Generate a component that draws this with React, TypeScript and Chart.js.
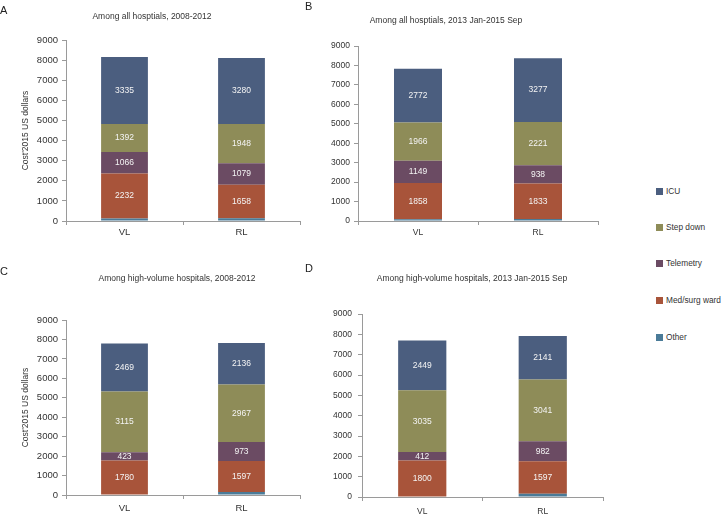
import React, { useEffect, useRef } from 'react';
import { Chart, registerables } from 'chart.js';
Chart.register(...registerables);

const FONT = '"Liberation Sans", Arial, Helvetica, sans-serif';

const categories = ['VL', 'RL'];
const seriesNames = ['ICU', 'Step down', 'Telemetry', 'Med/surg ward', 'Other'];
const seriesColors = ['#4b5e7f', '#8e8c58', '#6b4b63', '#a8543a', '#4a7b98'];

const yTicks = [0, 9000, 1000]; // min, max, step
const yTitle = "Cost'2015 US dollars";

// Panel A: all hospitals, 2008-2012
const icuA = [3335, 3280];
const stepA = [1392, 1948];
const telA = [1066, 1079];
const medA = [2232, 1658];
const otherA = [130, 140];

// Panel B: all hospitals, 2013 Jan-2015 Sep
const icuB = [2772, 3277];
const stepB = [1966, 2221];
const telB = [1149, 938];
const medB = [1858, 1833];
const otherB = [90, 100];

// Panel C: high-volume hospitals, 2008-2012
const icuC = [2469, 2136];
const stepC = [3115, 2967];
const telC = [423, 973];
const medC = [1780, 1597];
const otherC = [0, 150];

// Panel D: high-volume hospitals, 2013 Jan-2015 Sep
const icuD = [2449, 2141];
const stepD = [3035, 3041];
const telD = [412, 982];
const medD = [1800, 1597];
const otherD = [0, 160];

const titles = [
  'Among all hosptials, 2008-2012',
  'Among all hosptials, 2013 Jan-2015 Sep',
  'Among high-volume hospitals, 2008-2012',
  'Among high-volume hospitals, 2013 Jan-2015 Sep',
];
const letters = ['A', 'B', 'C', 'D'];

const valueLabels = {
  id: 'valueLabels',
  afterDatasetsDraw(chart: any) {
    const ctx = chart.ctx;
    ctx.save();
    ctx.fillStyle = '#f4f4f4';
    ctx.font = `8.5px ${FONT}`;
    ctx.textAlign = 'center';
    ctx.textBaseline = 'middle';
    chart.data.datasets.forEach((ds: any, i: number) => {
      if (ds.label === 'Other') return;
      const meta = chart.getDatasetMeta(i);
      meta.data.forEach((bar: any, j: number) => {
        const v = ds.data[j];
        if (!v) return;
        const p = bar.getProps(['x', 'y', 'base'], true);
        ctx.fillText(String(v), p.x, (p.y + p.base) / 2);
      });
    });
    ctx.restore();
  },
};

type PanelProps = {
  left: number; top: number; width: number; height: number;
  padTop: number; padRight: number; padBottom: number;
  yWidth: number; xHeight: number; showYTitle: boolean;
  tickSize: number; yPad: number; xPad: number;
  icu: number[]; step: number[]; tel: number[]; med: number[]; other: number[];
};

function Panel(props: PanelProps) {
  const ref = useRef<HTMLCanvasElement>(null);
  useEffect(() => {
    if (!ref.current) return;
    const stackVals = [props.other, props.med, props.tel, props.step, props.icu];
    const stackIdx = [4, 3, 2, 1, 0];
    const chart = new Chart(ref.current, {
      type: 'bar',
      data: {
        labels: categories,
        datasets: stackVals.map((vals, k) => ({
          label: seriesNames[stackIdx[k]],
          data: vals,
          backgroundColor: seriesColors[stackIdx[k]],
          borderWidth: 0,
          barPercentage: 0.4,
          categoryPercentage: 1,
        })),
      },
      options: {
        responsive: false,
        animation: false,
        devicePixelRatio: 1,
        layout: { padding: { left: 0, right: props.padRight, top: props.padTop, bottom: props.padBottom } },
        plugins: { legend: { display: false }, tooltip: { enabled: false }, title: { display: false } },
        scales: {
          x: {
            stacked: true,
            offset: true,
            grid: { display: true, drawOnChartArea: false, drawTicks: true, tickLength: 4, color: '#9a9a9a', offset: true },
            border: { display: true, color: '#9a9a9a' },
            ticks: { color: '#333', font: { family: FONT, size: props.tickSize }, padding: props.xPad },
            afterFit: (s: any) => { s.height = props.xHeight; },
          },
          y: {
            stacked: true,
            min: yTicks[0],
            max: yTicks[1],
            ticks: {
              stepSize: yTicks[2], color: '#333', font: { family: FONT, size: props.tickSize }, padding: props.yPad,
              callback: (v: any) => String(v),
            },
            grid: { display: true, drawOnChartArea: false, drawTicks: true, tickLength: 4, color: '#9a9a9a' },
            border: { display: true, color: '#9a9a9a' },
            title: {
              display: props.showYTitle,
              text: yTitle,
              color: '#333',
              font: { family: FONT, size: 8.5 },
              padding: { top: 21, bottom: 0 },
            },
            afterFit: (s: any) => { s.width = props.yWidth; },
          },
        },
      },
      plugins: [valueLabels],
    } as any);
    return () => chart.destroy();
  }, []);
  return (
    <canvas
      ref={ref}
      width={props.width}
      height={props.height}
      style={{ position: 'absolute', left: props.left, top: props.top, width: props.width, height: props.height }}
    />
  );
}

const textStyle = (x: number, y: number, size: number): React.CSSProperties => ({
  position: 'absolute', left: x, top: y, transform: 'translate(-50%, -50%)',
  fontSize: size, fontFamily: FONT, color: '#333', whiteSpace: 'nowrap', lineHeight: 1,
});

export default function App() {
  const titlePos = [[152, 16], [446, 20], [177, 278], [472, 278]];
  const letterPos = [[0, 4], [305, 0], [0, 265], [305, 262]];
  const legendY = [191, 227, 263, 300, 337];
  return (
    <div style={{ position: 'absolute', left: 0, top: 0, width: 724, height: 516, background: '#fff', overflow: 'hidden' }}>
      <Panel left={0} top={0} width={320} height={255} padTop={40} padRight={20} padBottom={6}
        yWidth={66} xHeight={28} showYTitle={true} tickSize={9.5} yPad={4} xPad={2}
        icu={icuA} step={stepA} tel={telA} med={medA} other={otherA} />
      <Panel left={330} top={0} width={290} height={255} padTop={46} padRight={22} padBottom={6}
        yWidth={28} xHeight={28} showYTitle={false} tickSize={8.5} yPad={4} xPad={3}
        icu={icuB} step={stepB} tel={telB} med={medB} other={otherB} />
      <Panel left={0} top={255} width={320} height={261} padTop={65} padRight={20} padBottom={0}
        yWidth={66} xHeight={21} showYTitle={true} tickSize={9.5} yPad={4} xPad={4}
        icu={icuC} step={stepC} tel={telC} med={medC} other={otherC} />
      <Panel left={330} top={255} width={290} height={261} padTop={59} padRight={17} padBottom={0}
        yWidth={32} xHeight={19} showYTitle={false} tickSize={8.5} yPad={6} xPad={6}
        icu={icuD} step={stepD} tel={telD} med={medD} other={otherD} />
      {titles.map((t, i) => (
        <div key={t} style={textStyle(titlePos[i][0], titlePos[i][1], 8.5)}>{t}</div>
      ))}
      {letters.map((l, i) => (
        <div key={l} style={{ position: 'absolute', left: letterPos[i][0], top: letterPos[i][1], fontSize: 11, fontFamily: FONT, color: '#222', lineHeight: 1.2 }}>{l}</div>
      ))}
      {seriesNames.map((n, i) => (
        <div key={n} style={{ position: 'absolute', left: 656, top: legendY[i] - 5, height: 10, display: 'flex', alignItems: 'center', fontFamily: FONT, fontSize: 8.3, color: '#333', whiteSpace: 'nowrap' }}>
          <span style={{ display: 'inline-block', width: 7, height: 7, background: seriesColors[i], marginRight: 3 }} />
          {n}
        </div>
      ))}
    </div>
  );
}
